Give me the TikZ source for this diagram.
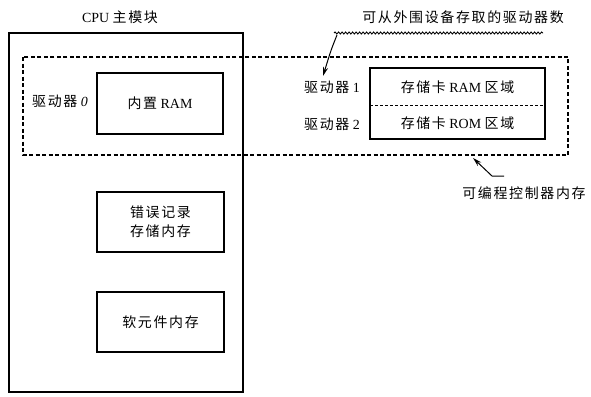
\documentclass[tikz,border=0pt]{standalone}
\usepackage{fontspec}
\setmainfont{Liberation Serif}
\newfontfamily\cjk[LetterSpace=12]{Noto Sans CJK SC}
\newcommand{\zh}[1]{{\cjk #1}}
\usetikzlibrary{arrows.meta,decorations.pathmorphing}
\begin{document}
\begin{tikzpicture}[x=1bp,y=-1bp,
  solidbox/.style={draw,line width=1.1bp},
  dashbox/.style={draw,line width=1.1bp,dash pattern=on 4bp off 2.5bp},
  lbl/.style={font=\fontsize{14}{16}\selectfont,inner sep=0pt},
  pointer/.style={line width=1bp,-{Stealth[length=9bp,width=5bp]}}]
\useasboundingbox (0,0) rectangle (591,396);
% CPU main module
\draw[solidbox] (9,33) rectangle (243,392);
\node[lbl] (cpu) at (120,17) {CPU \zh{主模块}};
% dashed PLC memory
\draw[dashbox] (23,57) rectangle (568,155);
\coordinate (dashbot) at (473,158);
% internal RAM
\node[solidbox,lbl,minimum width=126bp,minimum height=61bp] (ram) at (160,103.5) {\zh{内置} RAM};
\node[lbl] (d0) at (60,101) {\zh{驱动器} \textit{0}};
% error log
\node[solidbox,lbl,minimum width=127bp,minimum height=60bp,align=center] (err) at (160.5,222) {\zh{错误记录}\\[3bp]\zh{存储内存}};
% device memory
\node[solidbox,lbl,minimum width=127bp,minimum height=60bp] (dev) at (160.5,322) {\zh{软元件内存}};
% memory card
\draw[solidbox] (370,68) rectangle (545,139);
\draw[line width=0.9bp,dash pattern=on 3bp off 2bp] (370,105) -- (545,105);
\node[lbl] (cram) at (457.5,87) {\zh{存储卡} RAM \zh{区域}};
\node[lbl] (crom) at (457.5,123) {\zh{存储卡} ROM \zh{区域}};
\node[lbl] (d1) at (332,87) {\zh{驱动器} 1};
\node[lbl] (d2) at (332,124) {\zh{驱动器} 2};
% top label
\node[lbl] (top) at (463,17) {\zh{可从外围设备存取的驱动器数}};
\coordinate (wavyL) at (334,33);
\coordinate (wavyR) at (543,33);
\draw[line width=0.9bp,decorate,decoration={snake,amplitude=1bp,segment length=3.5bp}] (wavyL) -- (wavyR);
\coordinate (d1tip) at (323,76);
\draw[pointer] (337,35) .. controls (331,50) .. (d1tip);
% bottom label
\node[lbl] (plc) at (524,193) {\zh{可编程控制器内存}};
\coordinate (bend) at (492,176);
\draw[pointer] (504,176) -- (bend) -- (dashbot);
\end{tikzpicture}
\end{document}
